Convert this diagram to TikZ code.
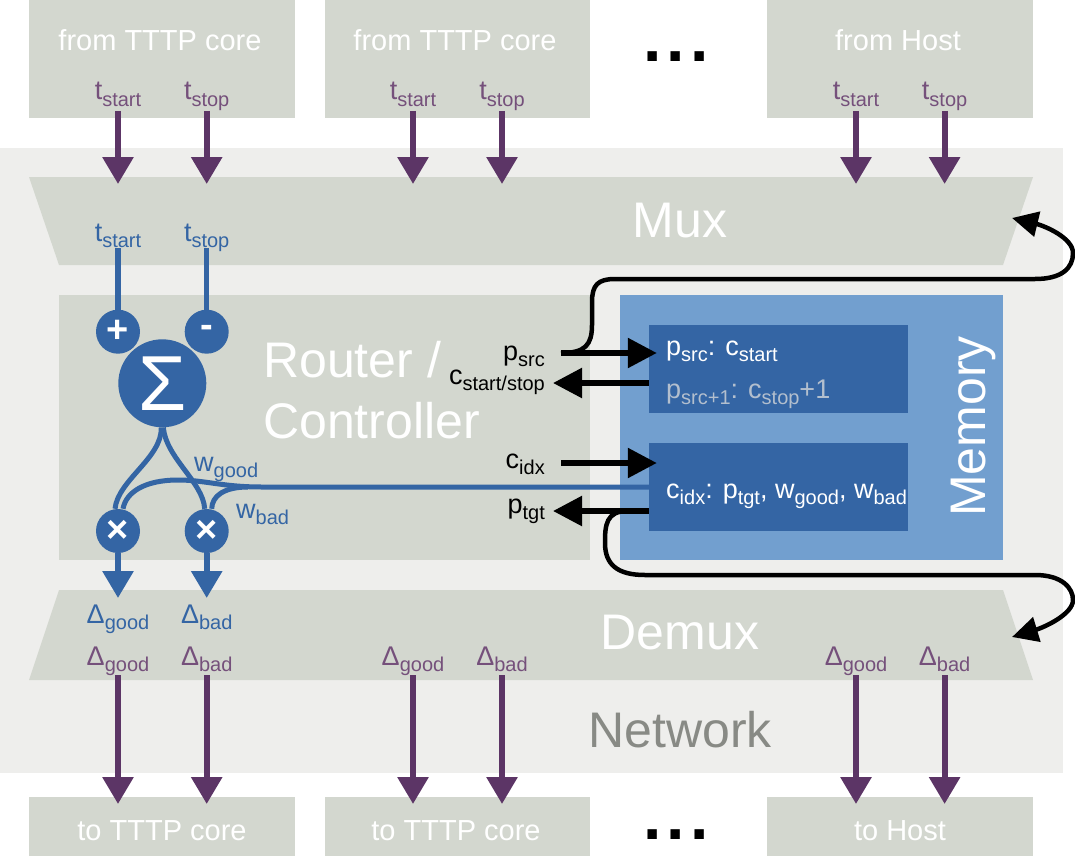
\documentclass[tikz,border=0pt]{standalone}
\usepackage{fontspec}
\setmainfont{Liberation Sans}
\usetikzlibrary{arrows.meta}
\definecolor{alu}{HTML}{D3D7CF}
\definecolor{netbg}{HTML}{EEEEEC}
\definecolor{netfg}{HTML}{888A85}
\definecolor{plum}{HTML}{5C3566}
\definecolor{plumlbl}{HTML}{75507B}
\definecolor{sky}{HTML}{3465A4}
\definecolor{skylight}{HTML}{729FCF}
\definecolor{faded}{HTML}{B3BFCE}

\newcommand{\ix}[2]{#1\raisebox{-6pt}{\fontsize{20}{20}\selectfont #2}}
\newcommand{\lblsz}{\fontsize{27}{30}\selectfont}
\newcommand{\boxsz}{\fontsize{29}{32}\selectfont}
\newcommand{\ttlsz}{\fontsize{50}{60}\selectfont}

\begin{document}
\begin{tikzpicture}[x=1pt, y=-1pt,
  boxtext/.style={font=\boxsz, text=white, anchor=base, inner sep=0pt},
  bigtext/.style={font=\ttlsz, text=white, anchor=base, inner sep=0pt},
  lbl/.style={font=\lblsz, anchor=base, inner sep=1pt},
  plbl/.style={lbl, text=plumlbl},
  blbl/.style={lbl, text=sky},
  dots/.style={font=\fontsize{66}{66}\selectfont\bfseries, anchor=base, inner sep=0pt},
  parrow/.style={draw=plum, line width=6pt, -{Triangle[width=30pt,length=27pt]}},
  barrow/.style={draw=sky, line width=6pt, -{Triangle[width=30pt,length=27pt]}},
  karrow/.style={draw=black, line width=5.5pt, -{Triangle[width=29pt,length=29pt]}},
  ret/.style={draw=black, line width=4.5pt, -{Triangle[width=25pt,length=26pt]}},
  wire/.style={draw=sky, line width=5pt},
  op/.style={circle, fill=sky, inner sep=0pt, minimum size=44pt, text=white,
    font=\fontsize{38}{38}\selectfont\bfseries},
  cell/.style={fill=sky, inner sep=0pt, minimum width=259pt, minimum height=88pt}
]
  \useasboundingbox (0,0) rectangle (1075,856);
  \fill[white] (0,0) rectangle (1075,856);

  %%% network %%%
  \fill[netbg] (0,148) rectangle (1063,773);
  \node[bigtext, text=netfg] (net) at (680,747) {Network};

  %%% sources %%%
  \fill[alu] (29,0) rectangle (295,118);
  \fill[alu] (325,0) rectangle (590,118);
  \fill[alu] (767,0) rectangle (1033,118);
  \node[boxtext] (src1) at (160,51) {from TTTP core};
  \node[boxtext] (src2) at (455,51) {from TTTP core};
  \node[boxtext] (srcH) at (898,51) {from Host};
  \node[dots] (dotsT) at (676,62) {.\hspace{5pt}.\hspace{5pt}.};
  % labels
  \node[plbl] (s1a) at (118,100) {\ix{t}{start}};
  \node[plbl] (s1o) at (206.7,100) {\ix{t}{stop}};
  \node[plbl] (s2a) at (413,100) {\ix{t}{start}};
  \node[plbl] (s2o) at (502,100) {\ix{t}{stop}};
  \node[plbl] (sHa) at (856,100) {\ix{t}{start}};
  \node[plbl] (sHo) at (944.6,100) {\ix{t}{stop}};

  %%% sinks %%%
  \fill[alu] (29,797) rectangle (295,856);
  \fill[alu] (325,797) rectangle (590,856);
  \fill[alu] (767,797) rectangle (1033,856);
  \node[boxtext] (dst1) at (162,840) {to TTTP core};
  \node[boxtext] (dst2) at (456,840) {to TTTP core};
  \node[boxtext] (dstH) at (900,840) {to Host};
  \node[dots] (dotsB) at (676,839) {.\hspace{5pt}.\hspace{5pt}.};

  %%% mux / demux %%%
  \fill[alu] (29,177) -- (1033,177) -- (1003,265) -- (59,265) -- cycle;
  \node[bigtext] (mux) at (680,237) {Mux};
  \fill[alu] (59,590) -- (1003,590) -- (1033,680) -- (29,680) -- cycle;
  \node[bigtext] (demux) at (680,649) {Demux};
  % labels
  \node[blbl] (mxa) at (118,241) {\ix{t}{start}};
  \node[blbl] (mxo) at (206.7,241) {\ix{t}{stop}};
  \node[blbl] (dmg) at (118,623) {\ix{Δ}{good}};
  \node[blbl] (dmb) at (206.7,623) {\ix{Δ}{bad}};
  \node[plbl] (d1g) at (118,665) {\ix{Δ}{good}};
  \node[plbl] (d1b) at (206.7,665) {\ix{Δ}{bad}};
  \node[plbl] (d2g) at (413,665) {\ix{Δ}{good}};
  \node[plbl] (d2b) at (502,665) {\ix{Δ}{bad}};
  \node[plbl] (dHg) at (856,665) {\ix{Δ}{good}};
  \node[plbl] (dHb) at (944.6,665) {\ix{Δ}{bad}};

  % in / out arrows
  \coordinate (inTop) at (0,111);
  \coordinate (inBot) at (0,184);
  \coordinate (outTop) at (0,675);
  \coordinate (outBot) at (0,804);
  \draw[parrow] (s1a |- inTop) -- (s1a |- inBot);
  \draw[parrow] (s1o |- inTop) -- (s1o |- inBot);
  \draw[parrow] (s2a |- inTop) -- (s2a |- inBot);
  \draw[parrow] (s2o |- inTop) -- (s2o |- inBot);
  \draw[parrow] (sHa |- inTop) -- (sHa |- inBot);
  \draw[parrow] (sHo |- inTop) -- (sHo |- inBot);
  \draw[parrow] (d1g |- outTop) -- (d1g |- outBot);
  \draw[parrow] (d1b |- outTop) -- (d1b |- outBot);
  \draw[parrow] (d2g |- outTop) -- (d2g |- outBot);
  \draw[parrow] (d2b |- outTop) -- (d2b |- outBot);
  \draw[parrow] (dHg |- outTop) -- (dHg |- outBot);
  \draw[parrow] (dHb |- outTop) -- (dHb |- outBot);

  %%% router / controller %%%
  \fill[alu] (59,295) rectangle (590,560);
  \node[bigtext, anchor=base west] (rtrA) at (263,377) {Router /};
  \node[bigtext, anchor=base west] (rtrB) at (263,438) {Controller};
  % adders and multipliers
  \node[op] (plus) at (118,331.7) {+};
  \node[op] (minus) at (206.7,331.7) {-};
  \node[op, minimum size=88pt, font=\fontsize{78}{78}\selectfont] (sum) at (162.3,383.3) {Σ};
  \node[op] (mulg) at (118,531) {×};
  \node[op] (mulb) at (206.7,531) {×};
  \draw[wire, line width=5.5pt] (mxa |- 0,248) -- (plus);
  \draw[wire, line width=5.5pt] (mxo |- 0,248) -- (minus);
  \draw[wire] ([xshift=-1pt]sum.south) .. controls (162,458) and (118,480) .. ([xshift=-3pt]mulg.north);
  \draw[wire] ([xshift=1pt]sum.south) .. controls (166,458) and (203,482) .. ([xshift=-2pt]mulb.north);
  \coordinate (dgTip) at (118,598);
  \coordinate (dbTip) at (206.7,598);
  \draw[barrow] (mulg) -- (dgTip);
  \draw[barrow] (mulb) -- (dbTip);
  % weights
  \node[blbl, anchor=base west] (wg) at (193,471) {\ix{w}{good}};
  \node[blbl, anchor=base west] (wb) at (235,518) {\ix{w}{bad}};

  %%% memory %%%
  \fill[skylight] (620,295) rectangle (1003,560);
  \node[bigtext, rotate=90] (memT) at (985,426.5) {Memory};
  \node[cell] (mem1) at (778.5,369) {};
  \node[cell] (mem2) at (778.5,487) {};
  \node[lbl, text=white, anchor=base west] (m1a) at (665,355) {\ix{p}{src}: \ix{c}{start}};
  \node[lbl, text=faded, anchor=base west] (m1b) at (665,398) {\ix{p}{src+1}: \ix{c}{stop}+1};
  \node[lbl, text=white, anchor=base west] (m2) at (665,498) {\ix{c}{idx}: \ix{p}{tgt}, \ix{w}{good}, \ix{w}{bad}};

  % weight wires
  \coordinate (wjoin) at (262,487);
  \coordinate (wsplit) at (248,487);
  \draw[wire] (mem2.west) -- (wjoin) .. controls (222,487) and (205,480) .. (178,480)
    .. controls (145,480) and (126,492) .. ([xshift=5pt]mulg.north);
  \draw[wire] (wsplit) .. controls (224,487) and (212,496) .. ([xshift=5pt]mulb.north);

  % memory ports
  \node[lbl, anchor=base east] (psrc) at (546,360) {\ix{p}{src}};
  \node[lbl, anchor=base east] (cst) at (546,384) {\ix{c}{start/stop}};
  \node[lbl, anchor=base east] (cidx) at (546,468) {\ix{c}{idx}};
  \node[lbl, anchor=base east] (ptgt) at (546,513) {\ix{p}{tgt}};
  \coordinate (psrcT) at (561,353);
  \coordinate (cstT) at (553,383);
  \coordinate (cidxT) at (561,463);
  \coordinate (ptgtT) at (553,511);
  \draw[karrow] (psrcT) -- ([xshift=8pt]psrcT -| mem1.west);
  \draw[karrow] (cstT -| mem1.west) -- (cstT);
  \draw[karrow] (cidxT) -- ([xshift=8pt]cidxT -| mem2.west);
  \draw[karrow] (ptgtT -| mem2.west) -- (ptgtT);

  % loops back to mux / demux
  \coordinate (muxR) at (1012,218);
  \coordinate (demuxR) at (1012,637);
  \draw[ret] (psrcT) .. controls (585,353) and (592,345) .. (592,325) -- (592,302)
    .. controls (592,285) and (598,279) .. (615,279) -- (1035,279)
    .. controls (1062,279) and (1073,268) .. (1073,253)
    .. controls (1073,238) and (1045,226) .. (muxR);
  \draw[ret] (ptgtT -| mem2.west) -- (628,511) .. controls (606,511) and (605,525) .. (605,543)
    .. controls (605,565) and (618,575) .. (645,575) -- (1035,575)
    .. controls (1062,575) and (1073,588) .. (1073,600)
    .. controls (1073,614) and (1045,627) .. (demuxR);
\end{tikzpicture}
\end{document}
